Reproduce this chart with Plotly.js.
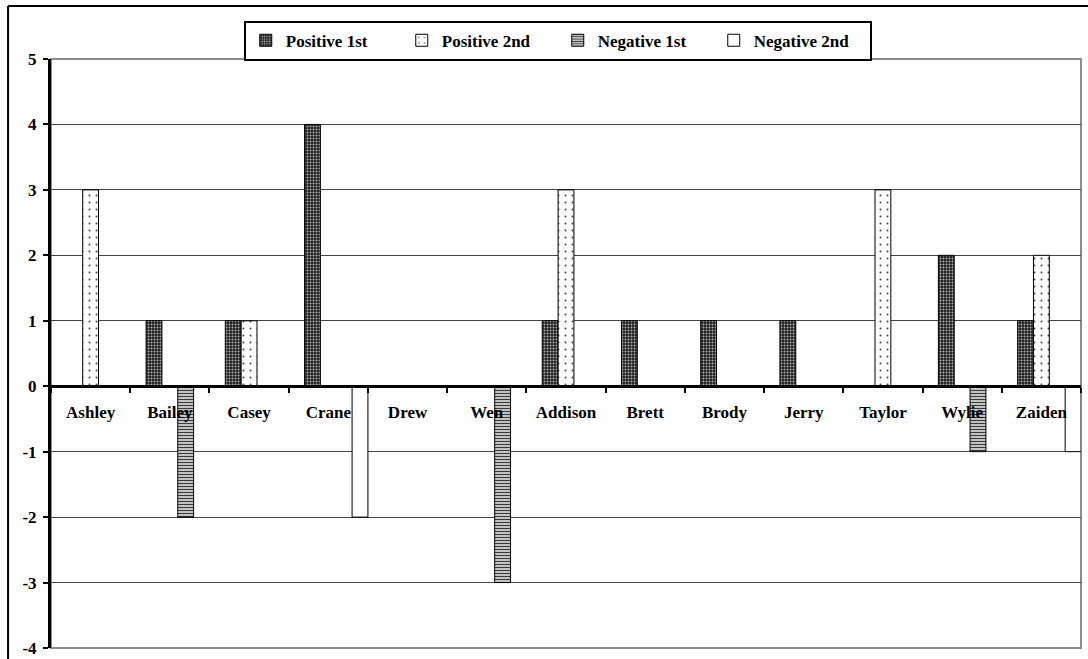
<!DOCTYPE html>
<html>
<head>
<meta charset="utf-8">
<script src="https://cdn.plot.ly/plotly-3.0.1.min.js"></script>
<style>html,body{margin:0;padding:0;background:#fff;}#chart{width:1088px;height:659px;}</style>
</head>
<body>
<div id="chart"></div>
<script>
const categories = ["Ashley","Bailey","Casey","Crane","Drew","Wen","Addison","Brett","Brody","Jerry","Taylor","Wylie","Zaiden"];
const positive1st = [0,1,1,4,0,0,1,1,1,1,0,2,1];
const positive2nd = [3,0,1,0,0,0,3,0,0,0,3,0,2];
const negative1st = [0,-2,0,0,0,-3,0,0,0,0,0,-1,0];
const negative2nd = [0,0,0,-2,0,0,0,0,0,0,0,0,-1];
const seriesNames = ["Positive 1st","Positive 2nd","Negative 1st","Negative 2nd"];
const yTicks = [-4,-3,-2,-1,0,1,2,3,4,5];
const yTickText = ["-4","-3","-2","-1","0","1","2","3","4","5"];

const FONT = "Liberation Serif";
const styles = [
  {pattern:{shape:".", bgcolor:"#1e1e1e", fgcolor:"#b0b0b0", size:3, solidity:0.35}, color:"#1e1e1e", offset:-0.3},
  {pattern:{shape:".", bgcolor:"#fbfbfb", fgcolor:"#444", size:7, solidity:0.06}, color:"#fbfbfb", offset:-0.1},
  {pattern:{shape:"-", bgcolor:"#f0f0f0", fgcolor:"#3a3a3a", size:3, solidity:0.5}, color:"#f0f0f0", offset:0.1},
  {pattern:null, color:"#ffffff", offset:0.3}
];
const values = [positive1st, positive2nd, negative1st, negative2nd];

const traces = values.map((v,i)=>{
  const m = {color: styles[i].color, line:{color:"#000", width:1}};
  if (styles[i].pattern) m.pattern = Object.assign({fillmode:"replace"}, styles[i].pattern);
  return {
    type:"bar", name: seriesNames[i], x: categories, y: v,
    offset: styles[i].offset, width: 0.2, marker: m
  };
});

const tf = {family:FONT, size:17, color:"#000", weight:"bold"};
const layout = {
  width:1088, height:659,
  margin:{l:51, r:7, t:59, b:11},
  paper_bgcolor:"#fff", plot_bgcolor:"#fff",
  font:tf,
  barmode:"overlay",
  showlegend:true,
  legend:{orientation:"h", x:0.492, xanchor:"center", y:1.065, yanchor:"top",
    bgcolor:"#fff", bordercolor:"#000", borderwidth:2,
    font:tf, itemwidth:30,
    entrywidth:111, entrywidthmode:"pixels", traceorder:"normal"},
  xaxis:{type:"category", anchor:"free", position:4/9, showline:true, linecolor:"#000", linewidth:3,
    ticks:"outside", tickson:"boundaries", ticklen:5, tickwidth:2, tickcolor:"#000",
    showgrid:false, zeroline:false, ticklabelstandoff:9,
    tickfont:tf, range:[-0.5,12.5]},
  yaxis:{range:[-4,5], tickvals:yTicks, ticktext:yTickText, showline:true, linecolor:"#000", linewidth:3,
    ticks:"outside", ticklen:5, tickwidth:2, tickcolor:"#000",
    showgrid:true, gridcolor:"#444", gridwidth:1, zeroline:false,
    tickfont:tf, ticklabelstandoff:3},
  shapes:[
    {type:"rect", xref:"paper", yref:"paper", x0:0, x1:1, y0:0, y1:1, line:{color:"#8c8c8c", width:2}, layer:"below"},
    {type:"line", xref:"paper", yref:"paper", x0:-0.0417, x1:1.1, y0:1.09, y1:1.09, line:{color:"#000", width:2}},
    {type:"line", xref:"paper", yref:"paper", x0:-0.0417, x1:-0.0417, y0:-0.1, y1:1.09, line:{color:"#000", width:2}}
  ]
};

Plotly.newPlot("chart", traces, layout, {displayModeBar:false, staticPlot:true});
</script>
</body>
</html>
